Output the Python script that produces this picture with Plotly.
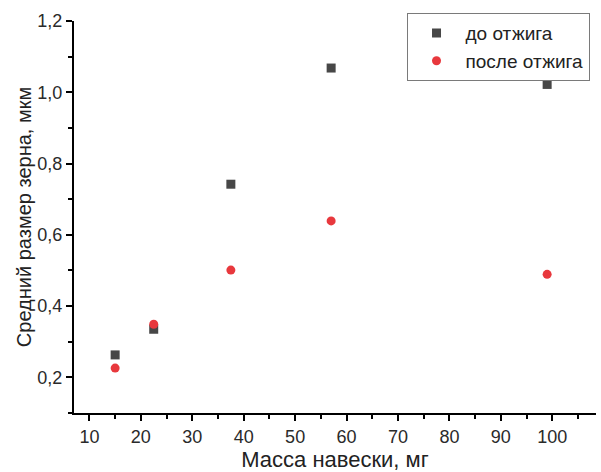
import plotly.graph_objects as go

# Sample mass, mg
mass_before = [15, 22.5, 37.5, 57, 99]
mass_after = [15, 22.5, 37.5, 57, 99]
# Mean grain size, um
grain_before = [0.263, 0.335, 0.742, 1.068, 1.022]
grain_after = [0.226, 0.349, 0.501, 0.639, 0.489]

series_names = ["до отжига", "после отжига"]
x_ticks = [10, 20, 30, 40, 50, 60, 70, 80, 90, 100]
y_ticks = [0.2, 0.4, 0.6, 0.8, 1.0, 1.2]

FONT = "Liberation Sans, Arial, sans-serif"

fig = go.Figure()
fig.add_trace(go.Scatter(
    x=mass_before, y=grain_before, mode="markers", name=series_names[0],
    marker=dict(symbol="square", size=9, color="#474747"),
))
fig.add_trace(go.Scatter(
    x=mass_after, y=grain_after, mode="markers", name=series_names[1],
    marker=dict(symbol="circle", size=9, color="#E8383D"),
))

axis_common = dict(
    showline=True, linecolor="black", linewidth=2,
    ticks="outside", ticklen=6, tickwidth=2, tickcolor="black",
    showgrid=False, zeroline=False, mirror=False,
    tickfont=dict(family=FONT, size=18, color="#2a2a2a"),
)

fig.update_xaxes(
    range=[7, 108.5], tickvals=x_ticks,
    minor=dict(dtick=5, tick0=0, ticks="outside", ticklen=4, tickwidth=2, tickcolor="black"),
    title=dict(text="Масса навески, мг", font=dict(family=FONT, size=22, color="#222222"), standoff=6),
    **axis_common,
)
fig.update_yaxes(
    range=[0.1, 1.2], tickvals=y_ticks, tickformat=".1f",
    minor=dict(dtick=0.1, tick0=0, ticks="outside", ticklen=4, tickwidth=2, tickcolor="black"),
    title=dict(text="Средний размер зерна, мкм", font=dict(family=FONT, size=20, color="#222222"), standoff=0),
    **axis_common,
)

fig.update_layout(
    width=601, height=472,
    margin=dict(l=74, r=5, t=21, b=59, autoexpand=False),
    paper_bgcolor="white", plot_bgcolor="white",
    separators=", ",
    showlegend=True,
    legend=dict(
        x=0.637, y=1.02, xanchor="left", yanchor="top",
        bordercolor="#7a7a7a", borderwidth=1, bgcolor="white",
        font=dict(family=FONT, size=19, color="#222222"),
        itemwidth=48, tracegroupgap=0,
    ),
)

fig.write_html("out.html")
